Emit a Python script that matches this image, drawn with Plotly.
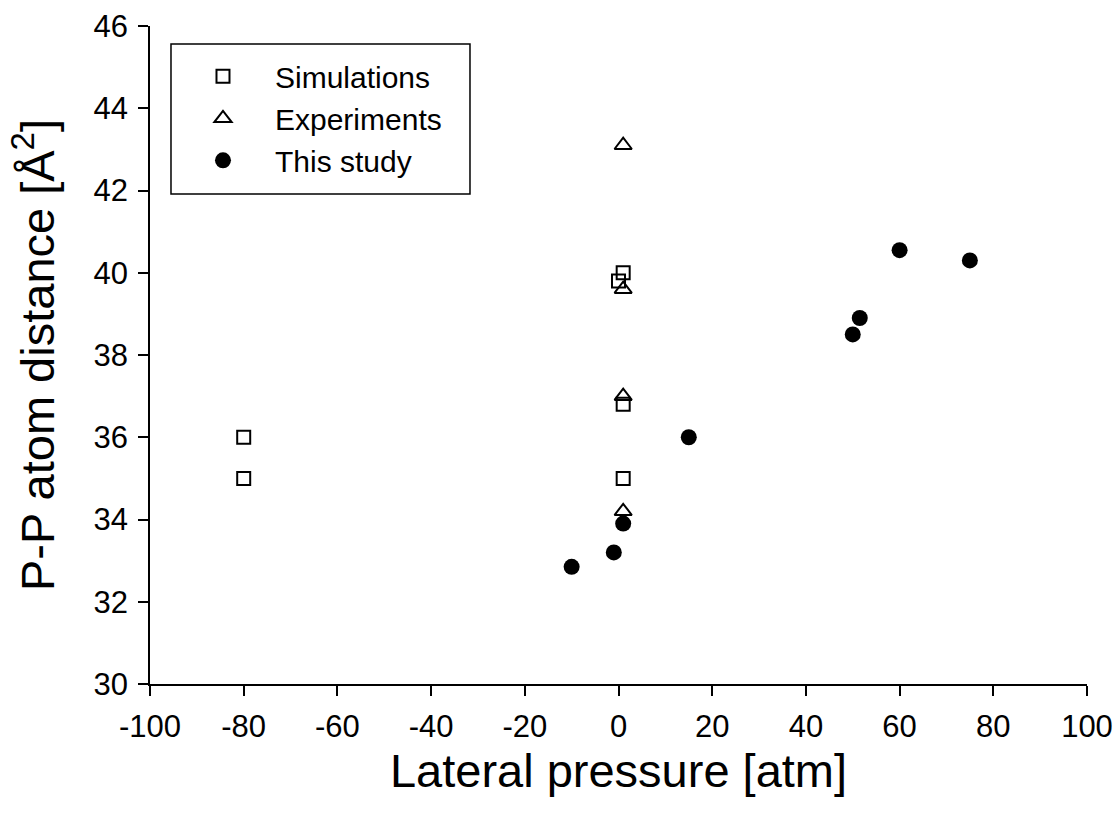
import plotly.graph_objects as go

# Lateral pressure [atm] vs P-P atom distance
sim_x = [-80, -80, 1, 0, 1, 1]
sim_y = [36.0, 35.0, 40.0, 39.8, 36.8, 35.0]

exp_x = [1, 1, 1, 1]
exp_y = [43.1, 39.6, 37.0, 34.2]

study_x = [-10, -1, 1, 15, 50, 51.5, 60, 75]
study_y = [32.85, 33.2, 33.9, 36.0, 38.5, 38.9, 40.55, 40.3]

x_ticks = [-100, -80, -60, -40, -20, 0, 20, 40, 60, 80, 100]
x_tick_labels = ["-100", "-80", "-60", "-40", "-20", "0", "20", "40", "60", "80", "100"]
y_ticks = [30, 32, 34, 36, 38, 40, 42, 44, 46]

FONT = "Arial, Liberation Sans, sans-serif"

fig = go.Figure()
fig.add_trace(go.Scatter(
    x=sim_x, y=sim_y, mode="markers", name="Simulations",
    marker=dict(symbol="square-open", size=13, color="black", line=dict(width=2, color="black")),
))
fig.add_trace(go.Scatter(
    x=exp_x, y=exp_y, mode="markers", name="Experiments",
    marker=dict(symbol="triangle-up-open", size=15, color="black", line=dict(width=2, color="black")),
))
fig.add_trace(go.Scatter(
    x=study_x, y=study_y, mode="markers", name="This study",
    marker=dict(symbol="circle", size=16, color="black", line=dict(width=0)),
))

axis_common = dict(
    showline=True, linecolor="black", linewidth=1.5,
    ticks="outside", ticklen=10, tickwidth=1.5, tickcolor="black",
    showgrid=False, zeroline=False, mirror=False, automargin=False,
    tickfont=dict(family=FONT, size=31, color="black"),
    ticklabelstandoff=4,
)

# legend frame
fig.add_shape(
    type="rect", xref="paper", yref="paper",
    x0=0.0224, x1=0.3415, y0=0.7447, y1=0.9726,
    line=dict(color="black", width=1.5), fillcolor="white", layer="below",
)

fig.update_layout(
    width=1116, height=817,
    margin=dict(l=150, r=29, t=26, b=133),
    paper_bgcolor="white", plot_bgcolor="white",
    font=dict(family=FONT, color="black"),
    showlegend=True,
    legend=dict(
        x=0.0224, y=0.963, xanchor="left", yanchor="top",
        borderwidth=0, bgcolor="rgba(0,0,0,0)",
        font=dict(family=FONT, size=30, color="black"),
        itemwidth=94, tracegroupgap=0,
    ),
    xaxis=dict(
        range=[-100, 100], tickvals=x_ticks, ticktext=x_tick_labels,
        title=dict(text="Lateral pressure [atm]", font=dict(family=FONT, size=47, color="black"), standoff=8),
        **axis_common,
    ),
    yaxis=dict(
        range=[30, 46], tickvals=y_ticks,
        title=dict(text="P-P atom distance [Å<sup>2</sup>]", font=dict(family=FONT, size=47, color="black"), standoff=24),
        **axis_common,
    ),
)

fig.write_html("out.html")
